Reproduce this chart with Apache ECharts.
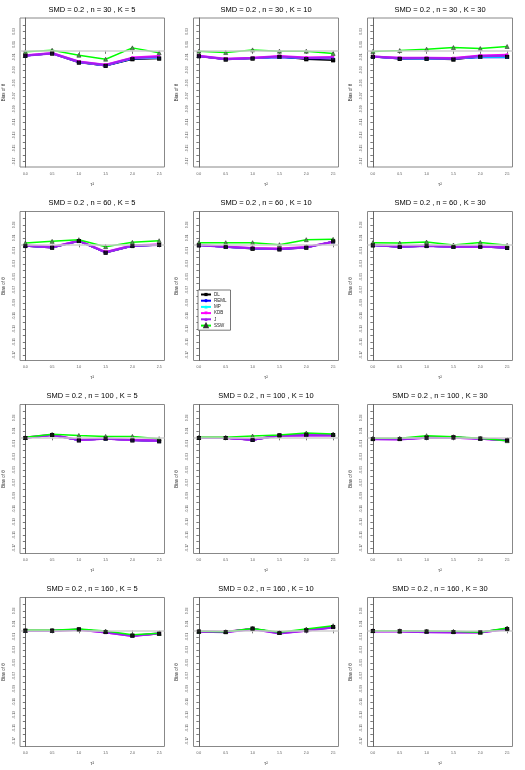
<!DOCTYPE html>
<html>
<head>
<meta charset="utf-8">
<script src="https://cdn.jsdelivr.net/npm/echarts@6/dist/echarts.min.js"></script>
<style>
  html, body { margin: 0; padding: 0; background: #fff; }
  #chart { width: 525px; height: 770px; }
</style>
</head>
<body>
<div id="chart"></div>
<script>
// tau^2 values on the x axis
var tau = [0, 0.5, 1.0, 1.5, 2.0, 2.5];
var nVals = [30, 60, 100, 160];
var kVals = [5, 10, 30];
var methods = ["DL", "REML", "MP", "KDB", "J", "SSW"];
var colors = ["#000000", "#0000ff", "#00ffff", "#ff00ff", "#a020f0", "#00ff00"];

var xTicks = [0, 0.5, 1.0, 1.5, 2.0, 2.5];
var yTicks = [-0.17, -0.16, -0.15, -0.14, -0.13, -0.12, -0.11, -0.1, -0.09, -0.08, -0.07,
	-0.06, -0.05, -0.04, -0.03, -0.02, -0.01, 0, 0.01, 0.02, 0.03, 0.04];
var yLabels = [-0.17, -0.15, -0.13, -0.11, -0.09, -0.07, -0.05, -0.03, -0.01, 0.01, 0.03];

// bias per panel (row order: n=30 K=5,10,30 ; n=60 ... ; n=160 ...)
var DL = [
	[-0.0077, -0.0041, -0.018, -0.023, -0.0128, -0.0118],
	[-0.0082, -0.0133, -0.0118, -0.0092, -0.0128, -0.0144],
	[-0.0092, -0.0123, -0.0123, -0.0133, -0.0092, -0.0092],
	[-0.0026, -0.0051, 0.0051, -0.0128, -0.0026, -0.001],
	[-0.0015, -0.004, -0.0067, -0.0077, -0.0051, 0.0046],
	[-0.0015, -0.004, -0.0026, -0.004, -0.0036, -0.0056],
	[-0.001, 0.0036, -0.0046, -0.002, -0.0046, -0.006],
	[-0.001, -0.001, -0.0041, 0.003, 0.004, 0.0036],
	[-0.0026, -0.0026, -0.0005, 0, -0.002, -0.0046],
	[-0.0005, -0.0005, 0.0015, -0.0026, -0.0082, -0.0051],
	[-0.002, -0.0026, 0.0026, -0.0041, 0, 0.0051],
	[-0.001, -0.0015, -0.002, -0.0026, -0.003, 0.002]
];
var REML = [
	[-0.0075, -0.004, -0.0175, -0.0228, -0.012, -0.011],
	[-0.0082, -0.013, -0.0113, -0.0102, -0.0118, -0.0118],
	[-0.0092, -0.012, -0.0123, -0.0123, -0.0102, -0.0102],
	[-0.0024, -0.0049, 0.0052, -0.0126, -0.0024, -0.001],
	[-0.0014, -0.004, -0.0065, -0.0075, -0.005, 0.0044],
	[-0.0015, -0.0039, -0.0025, -0.004, -0.0035, -0.0054],
	[-0.001, 0.0036, -0.0045, -0.002, -0.0045, -0.0058],
	[-0.001, -0.001, -0.004, 0.003, 0.0038, 0.0035],
	[-0.0026, -0.0027, -0.0005, 0, -0.002, -0.0046],
	[-0.0006, -0.0006, 0.0014, -0.0027, -0.0083, -0.005],
	[-0.002, -0.0026, 0.0025, -0.0042, -0.0001, 0.005],
	[-0.0011, -0.0015, -0.0021, -0.0027, -0.003, 0.002]
];
var MP = [
	[-0.0075, -0.004, -0.0175, -0.0225, -0.0118, -0.0108],
	[-0.008, -0.0128, -0.0112, -0.0095, -0.0115, -0.0115],
	[-0.009, -0.0118, -0.012, -0.012, -0.0095, -0.0095],
	[-0.0022, -0.0047, 0.0053, -0.0124, -0.0022, -0.0009],
	[-0.0013, -0.0039, -0.0063, -0.0073, -0.0048, 0.0042],
	[-0.0014, -0.0037, -0.0024, -0.0039, -0.0034, -0.0052],
	[-0.0008, 0.0036, -0.0044, -0.002, -0.0044, -0.0056],
	[-0.001, -0.001, -0.0038, 0.0028, 0.0036, 0.0034],
	[-0.0025, -0.0028, -0.0005, -0.0002, -0.002, -0.0046],
	[-0.0007, -0.0007, 0.0013, -0.0028, -0.0084, -0.0049],
	[-0.002, -0.0026, 0.0024, -0.0043, -0.0002, 0.0049],
	[-0.0012, -0.0014, -0.0022, -0.0028, -0.003, 0.0021]
];
var KDB = [
	[-0.007, -0.0035, -0.0165, -0.0215, -0.0105, -0.0082],
	[-0.0078, -0.0123, -0.0108, -0.0082, -0.0103, -0.0097],
	[-0.0087, -0.0108, -0.0108, -0.0113, -0.0072, -0.0062],
	[-0.0015, -0.004, 0.0056, -0.0118, -0.0015, -0.0005],
	[-0.001, -0.0036, -0.0056, -0.0067, -0.0041, 0.0036],
	[-0.001, -0.0031, -0.002, -0.0036, -0.0031, -0.0046],
	[-0.0005, 0.0038, -0.004, -0.0018, -0.004, -0.005],
	[-0.0008, -0.0008, -0.0034, 0.0028, 0.0032, 0.0032],
	[-0.0024, -0.0028, -0.0004, -0.0003, -0.0018, -0.0044],
	[-0.0008, -0.0008, 0.0012, -0.003, -0.0085, -0.0048],
	[-0.0018, -0.0024, 0.0022, -0.0044, -0.0003, 0.0048],
	[-0.0013, -0.0013, -0.0024, -0.0029, -0.003, 0.0022]
];
var J = [
	[-0.0072, -0.0038, -0.017, -0.022, -0.011, -0.0095],
	[-0.008, -0.0126, -0.011, -0.0087, -0.011, -0.0105],
	[-0.0089, -0.0113, -0.0113, -0.0118, -0.008, -0.0075],
	[-0.002, -0.0046, 0.0054, -0.0123, -0.002, -0.0008],
	[-0.0012, -0.0038, -0.006, -0.0072, -0.0046, 0.004],
	[-0.0012, -0.0035, -0.0023, -0.0038, -0.0033, -0.005],
	[-0.0005, 0.0036, -0.0041, -0.002, -0.0041, -0.0051],
	[-0.001, -0.001, -0.0036, 0.0026, 0.003, 0.003],
	[-0.0026, -0.0031, -0.0005, -0.0005, -0.002, -0.0046],
	[-0.001, -0.001, 0.001, -0.0031, -0.0087, -0.0046],
	[-0.002, -0.0026, 0.002, -0.0046, -0.0005, 0.0046],
	[-0.0015, -0.0015, -0.0026, -0.0031, -0.003, 0.002]
];
var SSW = [
	[-0.0015, 0.001, -0.0067, -0.0128, 0.0046, -0.003],
	[-0.0005, -0.0026, 0.0015, -0.0005, -0.0005, -0.004],
	[-0.001, 0.0005, 0.0026, 0.0051, 0.0036, 0.0067],
	[0.002, 0.0046, 0.0072, -0.0036, 0.0031, 0.0056],
	[0.0026, 0.0026, 0.0026, -0.0005, 0.0072, 0.0077],
	[0.0026, 0.002, 0.0036, -0.001, 0.003, -0.0015],
	[0, 0.0046, 0.003, 0.0015, 0.0015, -0.002],
	[0, 0, 0.002, 0.0036, 0.0067, 0.0051],
	[-0.0015, -0.0015, 0.0026, 0.001, -0.0015, -0.0051],
	[0, 0, 0.002, -0.001, -0.0067, -0.0046],
	[-0.0015, -0.002, 0.003, -0.003, 0.002, 0.0072],
	[-0.0005, -0.0005, -0.001, -0.0015, -0.003, 0.0036]
];
var allData = [DL, REML, MP, KDB, J, SSW];
var symbols = ["rect", "circle", "triangle", "triangle", "triangle", "triangle"];

var colLeft = [19.5, 193.5, 367.5];
var rowTop = [18, 211.5, 404.5, 597.5];
var boxW = 145;
var boxH = 149;
var font = "Liberation Sans, Arial, sans-serif";

var chart = echarts.init(document.getElementById("chart"));

var grids = [];
var xAxes = [];
var yAxes = [];
var titles = [];
var series = [];

function pairs(vals) {
	return vals.map(function (v, i) { return [tau[i], v]; });
}

for (var r = 0; r < 4; r++) {
	for (var c = 0; c < 3; c++) {
		var p = r * 3 + c;
		grids.push({
			left: colLeft[c], top: rowTop[r], width: boxW, height: boxH,
			show: true, borderColor: "#888", borderWidth: 1, backgroundColor: "#fff"
		});
		titles.push({
			text: "SMD = 0.2 , n = " + nVals[r] + " , K = " + kVals[c],
			left: colLeft[c] + boxW / 2, top: rowTop[r] - 12.5, textAlign: "center",
			padding: 0,
			textStyle: { fontSize: 7.5, fontWeight: "normal", color: "#000", fontFamily: font }
		});
		xAxes.push({
			gridIndex: p, type: "value", min: -0.1, max: 2.6,
			name: "\u03c4\u00b2", nameLocation: "middle", nameGap: 15,
			nameTextStyle: { fontSize: 4.5, color: "#333", fontFamily: font },
			axisLine: { show: false },
			splitLine: { show: false },
			axisTick: { show: true, length: 3, customValues: xTicks, lineStyle: { color: "#555", width: 0.8 } },
			axisLabel: {
				customValues: xTicks, fontSize: 3.5, color: "#555", margin: 5, fontFamily: font,
				formatter: function (v) { return v.toFixed(1); }
			}
		});
		yAxes.push({
			gridIndex: p, type: "value", min: -0.1785, max: 0.0505,
			name: "Bias of \u03b8", nameLocation: "middle", nameGap: 14, nameRotate: 90,
			nameTextStyle: { fontSize: 4.5, color: "#333", fontFamily: font },
			axisLine: { show: true, lineStyle: { color: "#666", width: 1 } },
			splitLine: { show: false },
			axisTick: { show: true, length: 2.5, customValues: yTicks, lineStyle: { color: "#555", width: 0.8 } },
			axisLabel: {
				customValues: yLabels, rotate: 90, fontSize: 3.5, color: "#555", margin: 4, fontFamily: font,
				formatter: function (v) { return v.toFixed(2); }
			}
		});
		for (var m = 0; m < methods.length; m++) {
			var s = {
				name: methods[m], type: "line",
				xAxisIndex: p, yAxisIndex: p,
				data: pairs(allData[m][p]),
				symbol: symbols[m], symbolSize: m === 0 ? 4 : 3,
				symbolRotate: m === 3 ? 180 : 0,
				showAllSymbol: true,
				lineStyle: { color: colors[m], width: m === 3 || m === 4 ? 2.2 : 1.5 },
				itemStyle: { color: colors[m] },
				animation: false, silent: true
			};
			if (m === 5) {
				s.symbolSize = 4;
				s.itemStyle = { color: "#44aa44", borderColor: "#333", borderWidth: 0.6 };
				s.lineStyle.color = colors[5];
			}
			if (m === 0) {
				s.markLine = {
					silent: true, symbol: "none", label: { show: false },
					lineStyle: { color: "#cfcfcf", width: 1.5, type: "solid" },
					data: [{ yAxis: 0 }]
				};
			}
			series.push(s);
		}
		// DL markers drawn on top of the other lines
		series.push({
			type: "scatter", xAxisIndex: p, yAxisIndex: p,
			data: pairs(DL[p]), symbol: "rect", symbolSize: 4, z: 5,
			itemStyle: { color: "#000" }, animation: false, silent: true
		});
	}
}

chart.setOption({
	backgroundColor: "#fff",
	animation: false,
	title: titles,
	grid: grids,
	xAxis: xAxes,
	yAxis: yAxes,
	legend: {
		data: methods, orient: "vertical", left: 198, top: 290,
		itemWidth: 10, itemHeight: 4, itemGap: 1.2, selectedMode: false,
		padding: [2, 4, 2, 2], borderColor: "#555", borderWidth: 0.8, backgroundColor: "#fff",
		textStyle: { fontSize: 4.5, color: "#222", fontFamily: font, padding: [0, 0, 0, -2] }
	},
	series: series
});
</script>
</body>
</html>
